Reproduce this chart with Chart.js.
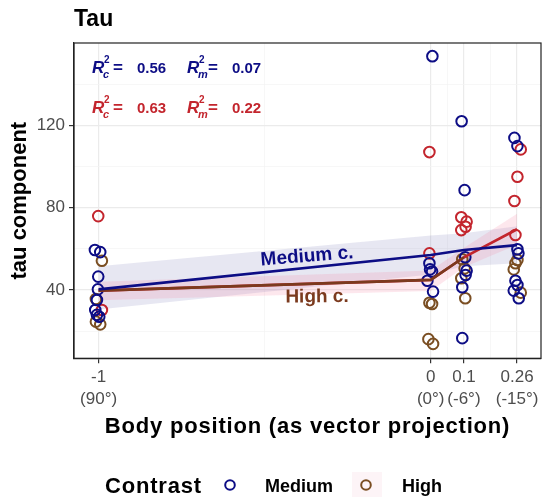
<!DOCTYPE html>
<html><head><meta charset="utf-8">
<script src="https://cdn.jsdelivr.net/npm/chart.js@4.4.1/dist/chart.umd.min.js"></script>
<style>html,body{margin:0;padding:0;background:#fff;} #wrap{width:550px;height:504px;position:relative;}</style>
</head><body><div id="wrap"><canvas id="c" width="550" height="504"></canvas></div>
<script>
// ---- data ----
const xTickValues = [-1, 0, 0.1, 0.26];
const xTickLabels = [['-1','(90°)'],['0','(0°)'],['0.1','(-6°)'],['0.26','(-15°)']];
const xMinorValues = [-0.5, 0.05, 0.18];
const yTickValues = [40, 80, 120];
const yMinorValues = [20, 60, 100, 140];

const mediumX = [-1.011,-0.995,-1.001,-1.002,-1.005,-1.010,-1.005,-0.998, 0.005,-0.004,-0.002,0.004,-0.010,0.007, 0.093,0.102,0.104,0.108,0.105,0.095,0.095, 0.252,0.261,0.261,0.264,0.255,0.261,0.250,0.265];
const mediumY = [59.4,58.4,46.5,40.3,35.1,30.3,27.9,27.0, 153.6,53,50,49,44.5,39.2, 122,88.5,55.9,49.4,47.3,41.3,16.6, 113.9,109.9,59.8,57.8,44.5,42.4,39.7,36];
const redX = [-1.001,-0.990, -0.004,-0.004, 0.092,0.108,0.105,0.092, 0.271,0.261,0.252,0.255];
const redY = [75.9,30.3, 107,57.8, 75.3,73.2,70.7,69.1, 108.3,95,83.2,66.7];
const highX = [-0.990,-1.008,-1.008,-0.995, -0.004,0.004,-0.007,0.007, 0.095,0.102,0.092,0.104, 0.261,0.255,0.250,0.271];
const highY = [54.2,35.6,24.6,23.3, 33.8,33.2,16.1,13.8, 54.9,50.5,45.7,36, 54.6,53,50,38.7];

const fitX = [-1, 0, 0.1, 0.26];
const mediumFit = [40.3, 57.0, 59.4, 61.8];
const mediumUpper = [51.5, 66.5, 67.5, 71];
const mediumLower = [30.5, 47.5, 51.5, 53];
const highFit = [39.7, 44.9, 55.9, 69.5];
const highUpper = [44, 49.5, 60.5, 77];
const highLower = [35, 39.5, 51, 62];

const r2Medium = ['0.56', '0.07'];
const r2High = ['0.63', '0.22'];

// ---- styles ----
const NAVY = '#0d0d85', RED = '#c3252d', BROWN = '#7a4e22', BROWNLINE = '#7b3a1e';
const FONT = '"Liberation Sans", Arial, Helvetica, sans-serif';

const pts = (xs, ys) => xs.map((x, i) => ({x, y: ys[i]}));
const majorX = v => xTickValues.some(t => Math.abs(t - v) < 1e-9);
const majorY = v => yTickValues.includes(v);

const scatterDs = (xs, ys, color) => ({
  type: 'scatter', data: pts(xs, ys), borderColor: color, backgroundColor: 'rgba(0,0,0,0)',
  pointRadius: 5.3, pointBorderWidth: 2, pointHoverRadius: 5.3, order: 5
});
const lineDs = (xs, ys, color, order) => ({
  type: 'line', data: pts(xs, ys), borderColor: color, borderWidth: 2.6, pointRadius: 0,
  fill: false, tension: 0, order
});
const bandDs = (ys, fillColor, order, fillTarget) => ({
  type: 'line', data: pts(fitX, ys), borderColor: 'rgba(0,0,0,0)', borderWidth: 0, pointRadius: 0,
  backgroundColor: fillColor, fill: fillTarget, tension: 0, order
});

const decor = {
  id: 'decor',
  afterDraw(chart) {
    const ctx = chart.ctx, a = chart.chartArea;
    ctx.save();
    // panel border
    ctx.strokeStyle = '#222'; ctx.lineWidth = 1.2;
    ctx.strokeRect(a.left, a.top, a.right - a.left, a.bottom - a.top);
    // direct labels
    ctx.fillStyle = NAVY; ctx.font = 'bold 19px ' + FONT;
    ctx.textAlign = 'center'; ctx.textBaseline = 'middle';
    ctx.save(); ctx.translate(307, 256.5); ctx.rotate(-4.6 * Math.PI / 180);
    ctx.fillText('Medium c.', 0, 0); ctx.restore();
    ctx.fillStyle = BROWNLINE;
    ctx.save(); ctx.translate(317, 297); ctx.rotate(-0.5 * Math.PI / 180);
    ctx.fillText('High c.', 0, 0); ctx.restore();
    // R2 annotations
    const drawR = (x, y, sub, val, color) => {
      ctx.fillStyle = color; ctx.textAlign = 'left'; ctx.textBaseline = 'alphabetic';
      ctx.font = 'italic bold 17px ' + FONT; ctx.fillText('R', x, y);
      ctx.font = 'italic bold 11px ' + FONT; ctx.fillText(sub, x + 11, y + 5);
      ctx.font = 'bold 10px ' + FONT; ctx.fillText('2', x + 12, y - 10);
      ctx.font = 'bold 17px ' + FONT; ctx.fillText('=', x + 21, y);
      ctx.font = 'bold 15px ' + FONT; ctx.fillText(val, x + 45, y);
    };
    drawR(92, 72.5, 'c', r2Medium[0], NAVY);
    drawR(187, 72.5, 'm', r2Medium[1], NAVY);
    drawR(92, 112.5, 'c', r2High[0], RED);
    drawR(187, 112.5, 'm', r2High[1], RED);
    // title
    ctx.fillStyle = '#000'; ctx.textAlign = 'left'; ctx.textBaseline = 'alphabetic';
    ctx.font = 'bold 23px ' + FONT; ctx.fillText('Tau', 74, 26);
    // axis titles
    ctx.font = 'bold 22px ' + FONT;
    ctx.letterSpacing = '0.8px';
    ctx.textAlign = 'center';
    ctx.fillText('Body position (as vector projection)', (a.left + a.right) / 2, 433);
    ctx.save(); ctx.translate(26, (a.top + a.bottom) / 2); ctx.rotate(-Math.PI / 2);
    ctx.letterSpacing = '0px';
    ctx.fillText('tau component', 0, 0); ctx.restore();
    // legend
    ctx.textAlign = 'left';
    ctx.fillText('Contrast', 105, 493);
    ctx.letterSpacing = '0px';
    ctx.fillStyle = '#fdf4f7'; ctx.fillRect(352, 472, 30, 25);
    ctx.lineWidth = 2;
    ctx.strokeStyle = NAVY; ctx.beginPath(); ctx.arc(230, 485, 4.8, 0, 2 * Math.PI); ctx.stroke();
    ctx.strokeStyle = BROWN; ctx.beginPath(); ctx.arc(366, 485, 4.8, 0, 2 * Math.PI); ctx.stroke();
    ctx.fillStyle = '#000'; ctx.font = 'bold 18px ' + FONT;
    ctx.fillText('Medium', 265, 492); ctx.fillText('High', 402, 492);
    ctx.restore();
  }
};

new Chart(document.getElementById('c'), {
  type: 'scatter',
  data: {
    datasets: [
      bandDs(mediumUpper, 'rgba(110,110,180,0.17)', 20, '+1'),
      bandDs(mediumLower, 'rgba(0,0,0,0)', 21, false),
      bandDs(highUpper, 'rgba(245,120,155,0.18)', 18, '+1'),
      bandDs(highLower, 'rgba(0,0,0,0)', 19, false),
      scatterDs(mediumX, mediumY, NAVY),
      scatterDs(redX, redY, RED),
      scatterDs(highX, highY, BROWN),
      lineDs(fitX, highFit, RED, 3),
      lineDs(fitX.slice(0, 3), highFit.slice(0, 3), BROWNLINE, 2),
      lineDs(fitX, mediumFit, NAVY, 1)
    ]
  },
  options: {
    responsive: false, animation: false, devicePixelRatio: 1,
    layout: { padding: { top: 43, right: 9, left: 0, bottom: 0 } },
    plugins: { legend: { display: false }, tooltip: { enabled: false }, title: { display: false } },
    scales: {
      x: {
        type: 'linear', min: -1.074, max: 0.332,
        afterBuildTicks: s => { s.ticks = [...xTickValues, ...xMinorValues].sort((p, q) => p - q).map(v => ({value: v})); },
        afterFit: s => { s.height = 145.7; },
        ticks: {
          autoSkip: false, maxRotation: 0, minRotation: 0, padding: 3, color: '#4d4d4d',
          font: { family: FONT, size: 17, lineHeight: 1.3 },
          callback: v => { const i = xTickValues.findIndex(t => Math.abs(t - v) < 1e-9); return i >= 0 ? xTickLabels[i] : ''; }
        },
        grid: {
          color: c => majorX(c.tick.value) ? '#ebebeb' : '#f3f3f3',
          lineWidth: c => majorX(c.tick.value) ? 1.2 : 0.7,
          tickColor: c => majorX(c.tick.value) ? '#333' : 'rgba(0,0,0,0)',
          tickLength: 5, tickWidth: 1.2
        },
        border: { display: true, color: '#222', width: 1.2 }
      },
      y: {
        type: 'linear', min: 6.8, max: 160,
        afterBuildTicks: s => { s.ticks = [...yTickValues, ...yMinorValues].sort((p, q) => p - q).map(v => ({value: v})); },
        afterFit: s => { s.width = 74; },
        ticks: {
          autoSkip: false, padding: 4, color: '#4d4d4d', font: { family: FONT, size: 17 },
          callback: v => majorY(v) ? String(v) : ''
        },
        grid: {
          color: c => majorY(c.tick.value) ? '#ebebeb' : '#f3f3f3',
          lineWidth: c => majorY(c.tick.value) ? 1.2 : 0.7,
          tickColor: c => majorY(c.tick.value) ? '#333' : 'rgba(0,0,0,0)',
          tickLength: 5, tickWidth: 1.2
        },
        border: { display: true, color: '#222', width: 1.2 }
      }
    }
  },
  plugins: [decor]
});
</script></body></html>
